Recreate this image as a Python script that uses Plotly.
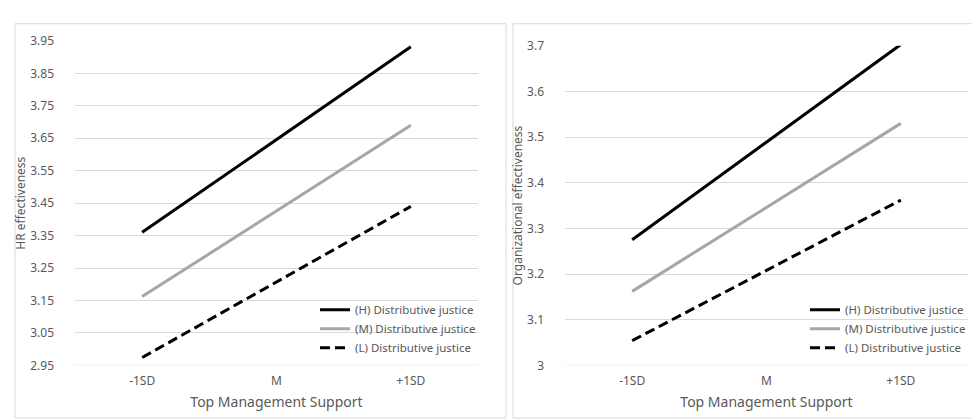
import plotly.graph_objects as go

categories = ["-1SD", "M", "+1SD"]
series_names = ["(H) Distributive justice", "(M) Distributive justice", "(L) Distributive justice"]

hr_high = [3.36, 3.645, 3.932]
hr_mid = [3.162, 3.426, 3.69]
hr_low = [2.974, 3.207, 3.44]

org_high = [3.275, 3.489, 3.703]
org_mid = [3.162, 3.346, 3.53]
org_low = [3.054, 3.208, 3.362]

hr_ticks = [2.95, 3.05, 3.15, 3.25, 3.35, 3.45, 3.55, 3.65, 3.75, 3.85, 3.95]
org_ticks = [3.0, 3.1, 3.2, 3.3, 3.4, 3.5, 3.6, 3.7]
org_ticktext = ["3", "3.1", "3.2", "3.3", "3.4", "3.5", "3.6", "3.7"]

W, H = 980, 420
FONT = "Noto Sans"
TXT = "#595959"
GRID = "#d9d9d9"

styles = [
    dict(color="#000000", width=3, dash="solid"),
    dict(color="#a6a6a6", width=3, dash="solid"),
    dict(color="#000000", width=3, dash="10px,5px"),
]

fig = go.Figure()

for vals, name, st in zip([hr_high, hr_mid, hr_low], series_names, styles):
    fig.add_trace(go.Scatter(x=categories, y=vals, mode="lines", name=name, line=st,
                             xaxis="x", yaxis="y", legend="legend"))
for vals, name, st in zip([org_high, org_mid, org_low], series_names, styles):
    fig.add_trace(go.Scatter(x=categories, y=vals, mode="lines", name=name, line=st,
                             xaxis="x2", yaxis="y2", legend="legend2"))

def px(v):
    return v / W

def py(v):
    return 1 - v / H

xcommon = dict(type="category", range=[-0.5, 2.5], showgrid=False, zeroline=False,
               showline=False, ticks="", tickfont=dict(family=FONT, size=12, color=TXT),
               ticklabelstandoff=7, fixedrange=True)
ycommon = dict(showgrid=True, gridcolor=GRID, gridwidth=1, zeroline=False, showline=False,
               ticks="", tickfont=dict(family=FONT, size=12, color=TXT),
               ticklabelstandoff=20, fixedrange=True)

legend_common = dict(xanchor="left", yanchor="top", bgcolor="rgba(0,0,0,0)",
                     font=dict(family=FONT, size=11.5, color=TXT), tracegroupgap=0, itemwidth=30)

fig.update_layout(
    width=W, height=H, autosize=False,
    margin=dict(l=0, r=0, t=0, b=0),
    paper_bgcolor="white", plot_bgcolor="white",
    font=dict(family=FONT, color=TXT),
    xaxis=dict(xcommon, domain=[px(67), px(470)], anchor="y",
               title=dict(text="Top Management Support", font=dict(size=14, color=TXT), standoff=8)),
    yaxis=dict(ycommon, domain=[py(363), py(25)], range=[2.95, 3.95], anchor="x",
               tickvals=hr_ticks, ticktext=[f"{t:.2f}" for t in hr_ticks],
               title=dict(text="HR effectiveness", font=dict(size=12, color=TXT), standoff=1)),
    xaxis2=dict(xcommon, domain=[px(557), px(960)], anchor="y2",
                title=dict(text="Top Management Support", font=dict(size=14, color=TXT), standoff=8)),
    yaxis2=dict(ycommon, domain=[py(363), py(30)], range=[3.0, 3.7], anchor="x2",
                tickvals=org_ticks, ticktext=org_ticktext,
                title=dict(text="Organizational effectiveness", font=dict(size=12, color=TXT), standoff=1)),
    legend=dict(legend_common, x=px(307), y=py(290)),
    legend2=dict(legend_common, x=px(797), y=py(290)),
    shapes=[
        dict(type="rect", xref="paper", yref="paper", x0=px(7), x1=px(498), y0=py(418), y1=py(7),
             line=dict(color=GRID, width=1)),
        dict(type="rect", xref="paper", yref="paper", x0=px(505), x1=px(985), y0=py(418), y1=py(7),
             line=dict(color=GRID, width=1)),
        dict(type="line", xref="x", yref="y", x0=-0.5, x1=2.5, y0=2.95, y1=2.95,
             line=dict(color=GRID, width=1)),
        dict(type="line", xref="x2", yref="y2", x0=-0.5, x1=2.5, y0=3.0, y1=3.0,
             line=dict(color=GRID, width=1)),
    ],
)

fig.write_html("out.html")
